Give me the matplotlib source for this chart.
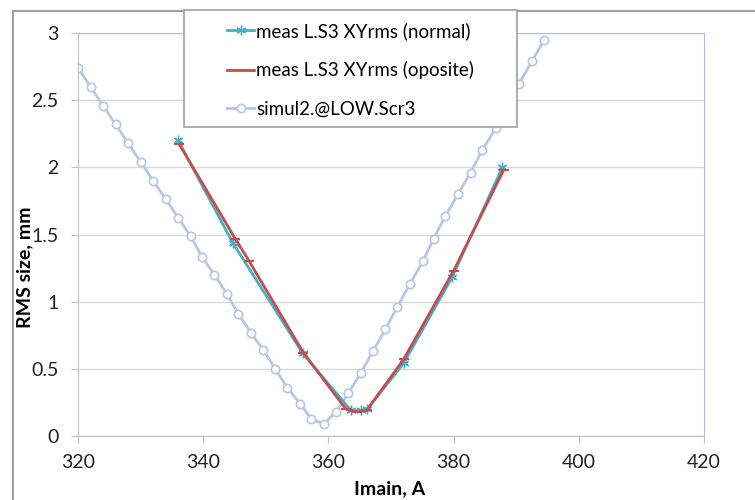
import matplotlib.pyplot as plt
from matplotlib.patches import Rectangle

plt.rcParams['font.family'] = ['Lato', 'DejaVu Sans']

# simulation curve
sim_x = [320, 322, 324, 326, 328, 330, 332, 334, 336, 338, 339.8, 341.8, 343.8,
         345.6, 347.6, 349.6, 351.5, 353.4, 355.5, 357.3, 359.3, 361.2, 363.2,
         365.2, 367.1, 369.1, 371, 373, 375.1, 376.8, 378.7, 380.7, 382.7,
         384.6, 386.7, 388.6, 390.4, 392.5, 394.5]
sim_y = [2.74, 2.6, 2.46, 2.32, 2.18, 2.04, 1.9, 1.765, 1.625, 1.487, 1.335,
         1.2, 1.055, 0.91, 0.77, 0.64, 0.5, 0.36, 0.24, 0.125, 0.09, 0.18,
         0.32, 0.47, 0.63, 0.795, 0.96, 1.13, 1.3, 1.47, 1.64, 1.8, 1.96,
         2.13, 2.29, 2.46, 2.62, 2.79, 2.95]

# measurements, normal polarity
norm_x = [336, 344.7, 355.9, 363.6, 365.2, 366.2, 372, 379.8, 387.8]
norm_y = [2.2, 1.44, 0.615, 0.19, 0.19, 0.2, 0.54, 1.186, 2.0]

# measurements, opposite polarity
opp_x = [336.2, 345.1, 347.3, 356, 362.8, 364.5, 366.1, 372, 380, 388]
opp_y = [2.17, 1.47, 1.305, 0.62, 0.2, 0.18, 0.19, 0.57, 1.23, 1.98]

fig = plt.figure(figsize=(7.55, 5.0), dpi=100)
ax = fig.add_axes([78 / 755, 1 - 436 / 500, 626 / 755, 403 / 500])

# outer chart frame
fig.patches.append(Rectangle((13 / 755, -0.1), 1.2, 1 - 11 / 500 + 0.1,
                             transform=fig.transFigure, fill=False,
                             edgecolor='#a0a0a0', linewidth=1.5))

l1, = ax.plot(norm_x, norm_y, color='#4bacc6', lw=2, marker=(6, 2, 0),
              markersize=7, markeredgewidth=1, zorder=3,
              label='meas L.S3 XYrms (normal)')
l2, = ax.plot(opp_x, opp_y, color='#c0504d', lw=2, marker='_',
              markersize=7, markeredgewidth=1.5, zorder=4,
              label='meas L.S3 XYrms (oposite)')
l3, = ax.plot(sim_x, sim_y, color='#b4c7e7', lw=2, marker='o',
              markersize=6, markerfacecolor='white', markeredgecolor='#b4c7e7',
              markeredgewidth=1.2, zorder=2, label='simul2.@LOW.Scr3')

ax.set_xlim(320, 420)
ax.set_ylim(0, 3)
ax.set_xticks([320, 340, 360, 380, 400, 420])
ax.set_yticks([0, 0.5, 1, 1.5, 2, 2.5, 3])
ax.set_yticklabels(['0', '0.5', '1', '1.5', '2', '2.5', '3'])
ax.grid(axis='y', color='#d9d9d9', lw=1)
ax.set_axisbelow(True)

for s in ['top', 'right']:
    ax.spines[s].set_color('#a6bfe0')
for s in ['left', 'bottom']:
    ax.spines[s].set_color('#c0c0c0')
ax.tick_params(axis='both', colors='#c0c0c0', labelcolor='#222222',
               labelsize=14, length=5)
ax.tick_params(axis='x', pad=8)
ax.tick_params(axis='y', pad=9)

ax.set_xlabel('Imain, A', fontsize=14, fontweight='bold', va='center')
ax.set_ylabel('RMS size, mm', fontsize=14, fontweight='bold', va='center')
ax.xaxis.set_label_coords(312 / 626, (436 - 489) / 403)
ax.yaxis.set_label_coords((25 - 78) / 626, (436 - 267) / 403)

# legend box drawn separately, entries placed inside it
fig.patches.append(Rectangle((184 / 755, 1 - 127 / 500), 333 / 755, 117 / 500,
                             transform=fig.transFigure, facecolor='white',
                             edgecolor='#a0a0a0', linewidth=1.2, zorder=5))
leg = fig.legend(handles=[l1, l2, l3], loc='upper left',
                 bbox_to_anchor=(227 / 755, 1 - 22 / 500), fontsize=13.5,
                 frameon=False, labelspacing=1.13, handlelength=1.45,
                 handletextpad=0.1, borderpad=0, borderaxespad=0)
leg.set_zorder(6)

plt.savefig('out.png', dpi=100)
